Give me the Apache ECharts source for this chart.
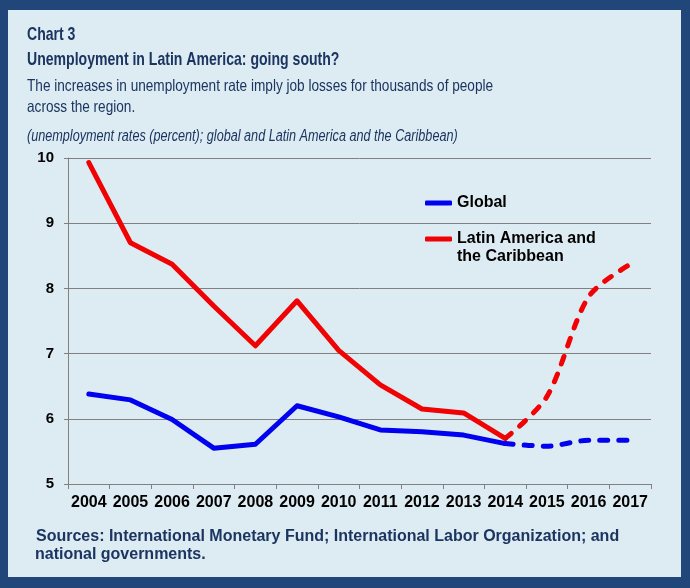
<!DOCTYPE html>
<html>
<head>
<meta charset="utf-8">
<script src="https://cdn.jsdelivr.net/npm/echarts@6/dist/echarts.min.js"></script>
<style>
html,body{margin:0;padding:0;background:#21477A;}
#chart{width:690px;height:588px;}
</style>
</head>
<body>
<div id="chart"></div>
<script>
var years = ['2004','2005','2006','2007','2008','2009','2010','2011','2012','2013','2014','2015','2016','2017'];
// Actual (solid) values, 2004-2014
var globalActual = [6.38, 6.29, 5.99, 5.55, 5.61, 6.20, 6.03, 5.83, 5.80, 5.75, 5.62, null, null, null];
var latamActual  = [9.93, 8.70, 8.37, 7.73, 7.12, 7.81, 7.05, 6.52, 6.15, 6.09, 5.70, null, null, null];
// Projected (dashed) values, 2014-2017
var globalProj = [null, null, null, null, null, null, null, null, null, null, 5.62, 5.58, 5.67, 5.67];
var latamProj  = [null, null, null, null, null, null, null, null, null, null, 5.70, 6.34, 7.87, 8.37];
var yTicks = [5, 6, 7, 8, 9, 10];

var navy = '#1B3560';
var sans = "'Liberation Sans',Arial,sans-serif";

function txt(x, y, text, font, sx) {
  return {type: 'text', x: x, y: y, scaleX: sx, originX: 0, originY: 0,
          style: {x: 0, y: 0, text: text, font: font, fill: navy, verticalAlign: 'middle'}};
}

var chart = echarts.init(document.getElementById('chart'), null, {renderer: 'canvas'});
var option = {
  backgroundColor: '#21477A',
  animation: false,
  graphic: [
    {type: 'rect', z: -10, shape: {x: 8, y: 10, width: 673, height: 567}, style: {fill: '#DDEBF3'}},
    txt(27, 35, 'Chart 3', 'bold 19px ' + sans, 0.74),
    txt(27, 59.5, 'Unemployment in Latin America: going south?', 'bold 19px ' + sans, 0.74),
    txt(27, 86, 'The increases in unemployment rate imply job losses for thousands of people', '16.5px ' + sans, 0.825),
    txt(27, 107, 'across the region.', '16.5px ' + sans, 0.825),
    txt(27, 136.5, '(unemployment rates (percent); global and Latin America and the Caribbean)', 'italic 16px ' + sans, 0.79),
    txt(36, 537, 'Sources: International Monetary Fund; International Labor Organization; and', 'bold 16px ' + sans, 1),
    txt(35, 555, 'national governments.', 'bold 16px ' + sans, 1)
  ],
  legend: [
    {
      data: ['Global'], orient: 'vertical', left: 425, top: 194, padding: 0,
      icon: 'roundRect', itemWidth: 27, itemHeight: 5, itemGap: 0,
      textStyle: {color: '#000', fontSize: 16, fontWeight: 'bold', fontFamily: sans, lineHeight: 18}
    },
    {
      data: ['Latin America and\nthe Caribbean'], orient: 'vertical', left: 425, top: 212, padding: 0,
      icon: 'roundRect', itemWidth: 27, itemHeight: 5, itemGap: 0,
      formatter: function (name) { return '\n' + name; },
      textStyle: {color: '#000', fontSize: 16, fontWeight: 'bold', fontFamily: sans, lineHeight: 18}
    }
  ],
  grid: {left: 68, right: 39, top: 158, bottom: 104, containLabel: false},
  xAxis: {
    type: 'category', data: years, boundaryGap: true,
    axisLine: {lineStyle: {color: '#808080', width: 1}},
    axisTick: {show: true, length: 5, lineStyle: {color: '#808080'}},
    axisLabel: {color: '#000', fontSize: 16, fontWeight: 'bold', fontFamily: sans, margin: 11, interval: 0}
  },
  yAxis: {
    type: 'value', min: yTicks[0], max: yTicks[yTicks.length - 1], interval: 1,
    axisLine: {show: true, lineStyle: {color: '#808080', width: 1}},
    axisTick: {show: true, length: 4, lineStyle: {color: '#808080'}},
    splitLine: {lineStyle: {color: '#808080', width: 1}},
    axisLabel: {color: '#000', fontSize: 15, fontWeight: 'bold', fontFamily: sans, margin: 14}
  },
  series: [
    {name: 'Global', type: 'line', data: globalActual, color: '#0000F0', showSymbol: false, symbol: 'none',
     lineStyle: {width: 5, color: '#0000F0', cap: 'round', join: 'round'}},
    {name: 'Latin America and\nthe Caribbean', type: 'line', data: latamActual, color: '#F00000', showSymbol: false, symbol: 'none',
     lineStyle: {width: 5, color: '#F00000', cap: 'round', join: 'round'}},
    {name: 'Global projection', type: 'line', data: globalProj, showSymbol: false, symbol: 'none', smooth: 0.3,
     lineStyle: {width: 5, color: '#0000F0', type: [8, 11], cap: 'round', join: 'round'}},
    {name: 'Latin America projection', type: 'line', data: latamProj, showSymbol: false, symbol: 'none', smooth: 0.3,
     lineStyle: {width: 5, color: '#F00000', type: [8, 11], cap: 'round', join: 'round'}}
  ]
};
chart.setOption(option);
</script>
</body>
</html>
